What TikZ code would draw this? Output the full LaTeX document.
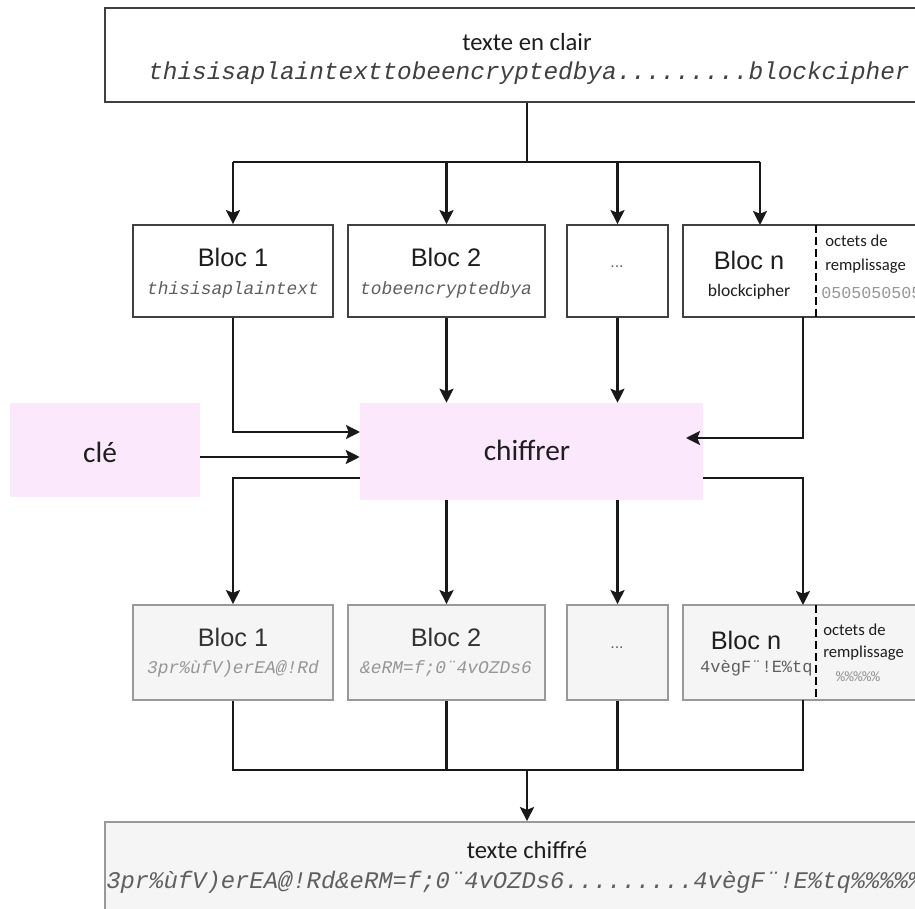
\documentclass[tikz,border=0pt]{standalone}
\usepackage{fontspec}
\setmainfont{Carlito}
\setsansfont{Liberation Sans}
\setmonofont{Liberation Mono}
\usetikzlibrary{arrows.meta,calc}

\definecolor{pinkfill}{RGB}{252,232,252}
\definecolor{greyfill}{RGB}{245,245,245}
\definecolor{inkdark}{RGB}{30,30,30}
\definecolor{codegrey}{RGB}{95,95,95}
\definecolor{codelight}{RGB}{150,150,150}

\newcommand{\fs}[1]{\fontsize{#1}{#1}\selectfont}

\begin{document}
\begin{tikzpicture}[x=0.75pt,y=-0.75pt,
  plainbox/.style={draw=black!75, line width=1.3pt, fill=white, inner sep=0pt},
  cipherbox/.style={draw=black!40, line width=1.3pt, fill=greyfill, inner sep=0pt},
  pinkbox/.style={fill=pinkfill, draw=none, inner sep=0pt},
  conn/.style={line width=1.8pt, draw=black!90},
  arr/.style={conn, -{Stealth[length=10.5pt,width=10.5pt,inset=2pt]}},
  title/.style={font=\fs{18.5}, text=inkdark, inner sep=0pt},
  bloc/.style={font=\sffamily\fs{19}, text=inkdark, inner sep=0pt},
  code/.style={font=\ttfamily\itshape\fs{13.4}, text=codegrey, inner sep=0pt},
  lightcode/.style={font=\ttfamily\itshape\fs{13.4}, text=codelight, inner sep=0pt},
  note/.style={font=\fs{12.5}, text=inkdark, inner sep=0pt, anchor=west},
  padline/.style={line width=2.2pt, dash pattern=on 6pt off 3pt, draw=black}
]
\useasboundingbox (0,0) rectangle (915,909);
\clip (0,0) rectangle (915,909);

% plaintext
\node[plainbox, minimum width=633pt, minimum height=70.5pt] (plain) at (527,55) {};
\node[title] (plainT) at (527,42) {texte en clair};
\node[font=\ttfamily\itshape\fs{18.3}, text=black!75, inner sep=0pt] (plainC) at (529,73)
  {thisisaplaintexttobeencryptedbya.........blockcipher};

% plaintext blocks
\node[plainbox, minimum width=150pt, minimum height=69pt] (p1) at (233,271) {};
\node[plainbox, minimum width=147.75pt, minimum height=69pt] (p2) at (446.5,271) {};
\node[plainbox, minimum width=75.75pt, minimum height=69pt] (p3) at (617.5,271) {};
\node[plainbox, minimum width=200.25pt, minimum height=69pt] (pn) at (816.5,271) {};
\draw[padline] (816,225) -- (816,317);

\node[bloc] (p1T) at (233,257) {Bloc 1};
\node[code] (p1C) at (233,290) {thisisaplaintext};
\node[bloc] (p2T) at (446,257) {Bloc 2};
\node[code] (p2C) at (446,290) {tobeencryptedbya};
\node[font=\sffamily\fs{12}, text=codegrey, inner sep=0pt] (p3T) at (617,267) {...};
\node[bloc] (pnT) at (749,260) {Bloc n};
\node[font=\fs{13.2}, text=inkdark, inner sep=0pt] (pnC) at (749,292) {blockcipher};
\node[note] (pnA) at (825,241) {octets de};
\node[note] (pnB) at (825,266) {remplissage};
\node[font=\ttfamily\fs{12.5}, text=codelight, inner sep=0pt, anchor=west] (pnP) at (821,293) {0505050505};

% key and cipher
\node[pinkbox, minimum width=142.5pt, minimum height=70.5pt] (key) at (105,450) {};
\node[font=\fs{22}, text=inkdark, inner sep=0pt] (keyT) at (100,452) {clé};
\node[pinkbox, minimum width=257.25pt, minimum height=72.75pt] (enc) at (531.5,451.5) {};
\node[font=\fs{22}, text=inkdark, inner sep=0pt] (encT) at (527,450) {chiffrer};

% ciphertext blocks
\node[cipherbox, minimum width=150pt, minimum height=71.25pt] (c1) at (233,652.5) {};
\node[cipherbox, minimum width=147.75pt, minimum height=71.25pt] (c2) at (446.5,652.5) {};
\node[cipherbox, minimum width=75.75pt, minimum height=71.25pt] (c3) at (617.5,652.5) {};
\node[cipherbox, minimum width=200.25pt, minimum height=71.25pt] (cn) at (816.5,652.5) {};
\draw[padline] (816,605) -- (816,700);

\node[bloc, text=black!80] (c1T) at (233,637) {Bloc 1};
\node[lightcode] (c1C) at (233,669) {3pr\%ùfV)erEA@!Rd};
\node[bloc, text=black!80] (c2T) at (446,637) {Bloc 2};
\node[lightcode] (c2C) at (446,669) {\&eRM=f;0¨4vOZDs6};
\node[font=\sffamily\fs{12}, text=codegrey, inner sep=0pt] (c3T) at (617,648) {...};
\node[bloc] (cnT) at (746,640) {Bloc n};
\node[font=\ttfamily\fs{12.8}, text=codegrey, inner sep=0pt, anchor=east] (cnC) at (813,668) {4vègF¨!E\%tq};
\node[note] (cnA) at (823,630) {octets de};
\node[note] (cnB) at (823,653) {remplissage};
\node[font=\ttfamily\fs{11}, text=codelight, inner sep=0pt] (cnP) at (858,677) {\%\%\%\%\%};

% ciphertext
\node[cipherbox, minimum width=633pt, minimum height=67.5pt] (ciph) at (527,867) {};
\node[title] (ciphT) at (527,850) {texte chiffré};
\node[font=\ttfamily\itshape\fs{17.9}, text=codegrey, inner sep=0pt, anchor=west] (ciphC) at (106,882)
  {3pr\%ùfV)erEA@!Rd\&eRM=f;0¨4vOZDs6.........4vègF¨!E\%tq\%\%\%\%\%};

% junction points of the connectors
\coordinate (split) at (527,162);
\coordinate (pnIn) at (760,225);
\coordinate (pnOut) at (803,317);
\coordinate (encInA) at (360,432);
\coordinate (encInN) at (686,438);
\coordinate (encOutL) at (360,478);
\coordinate (encOutR) at (703,478);
\coordinate (cnIn) at (803,605);
\coordinate (cnOut) at (803,700);
\coordinate (merge) at (527,770);

% splitting the plaintext
\draw[conn] (plain.south) -- (split);
\draw[conn] (p1.north |- split) -- (pnIn |- split);
\draw[arr] (p1.north |- split) -- (p1.north);
\draw[arr] (p2.north |- split) -- (p2.north);
\draw[arr] (p3.north |- split) -- (p3.north);
\draw[arr] (pnIn |- split) -- (pnIn);

% into the cipher
\draw[arr] (p1.south) |- (encInA);
\draw[arr] (key.east |- 0,457) -- (enc.west |- 0,457);
\draw[arr] (p2.south) -- (p2.south |- enc.north);
\draw[arr] (p3.south) -- (p3.south |- enc.north);
\draw[arr] (pnOut) |- (encInN);

% out of the cipher
\draw[arr] (encOutL) -| (c1.north);
\draw[arr] (p2.south |- enc.south) -- (c2.north);
\draw[arr] (p3.south |- enc.south) -- (c3.north);
\draw[arr] (encOutR) -| (cnIn);

% merging the ciphertext blocks
\draw[conn] (c1.south) |- (merge);
\draw[conn] (cnOut) |- (merge);
\draw[conn] (c2.south) -- (c2.south |- merge);
\draw[conn] (c3.south) -- (c3.south |- merge);
\draw[arr] (merge) -- (ciph.north);
\end{tikzpicture}
\end{document}
